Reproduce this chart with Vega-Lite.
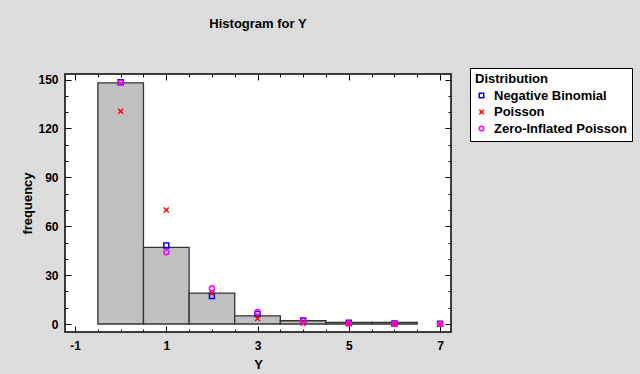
{
  "$schema": "https://vega.github.io/schema/vega-lite/v6.json",
  "width": 386,
  "height": 258,
  "autosize": {"type": "none"},
  "padding": {"left": 65, "top": 74, "right": 189, "bottom": 42},
  "background": "#dcdcdc",
  "title": {"text": "Histogram for Y", "fontSize": 13, "font": "Liberation Sans", "fontWeight": "bold", "anchor": "middle", "offset": 37, "color": "black"},
  "config": {
    "font": "Liberation Sans",
    "view": {"stroke": "black", "strokeWidth": 1.5, "fill": "white"},
    "axis": {"grid": false, "domain": false, "tickColor": "black", "tickWidth": 1, "labelColor": "black", "titleColor": "black", "labelFont": "Liberation Sans", "titleFont": "Liberation Sans", "labelFontSize": 12, "labelFontWeight": "bold", "titleFontSize": 13, "titleFontWeight": "bold"},
    "legend": {"orient": "none", "legendX": 405, "legendY": -6, "fillColor": "white", "strokeColor": "black", "padding": 5, "titleFont": "Liberation Sans", "labelFont": "Liberation Sans", "titleFontSize": 13, "titleFontWeight": "bold", "labelFontSize": 13, "labelFontWeight": "bold", "titleColor": "black", "labelColor": "black", "symbolSize": 20, "symbolStrokeWidth": 1.5, "labelOffset": 6, "rowPadding": 2.5, "titlePadding": 3}
  },
  "datasets": {
    "bars": [
      {"bin_start": -0.5, "bin_end": 0.5, "count": 148},
      {"bin_start": 0.5, "bin_end": 1.5, "count": 47},
      {"bin_start": 1.5, "bin_end": 2.5, "count": 19},
      {"bin_start": 2.5, "bin_end": 3.5, "count": 5},
      {"bin_start": 3.5, "bin_end": 4.5, "count": 2},
      {"bin_start": 4.5, "bin_end": 5.5, "count": 1},
      {"bin_start": 5.5, "bin_end": 6.5, "count": 1}
    ],
    "fits": [
      {"Y": 0, "dist": "Negative Binomial", "frequency": 148.3},
      {"Y": 1, "dist": "Negative Binomial", "frequency": 48.2},
      {"Y": 2, "dist": "Negative Binomial", "frequency": 17.2},
      {"Y": 3, "dist": "Negative Binomial", "frequency": 6.2},
      {"Y": 4, "dist": "Negative Binomial", "frequency": 2.1},
      {"Y": 5, "dist": "Negative Binomial", "frequency": 0.8},
      {"Y": 6, "dist": "Negative Binomial", "frequency": 0.3},
      {"Y": 7, "dist": "Negative Binomial", "frequency": 0.1},
      {"Y": 0, "dist": "Poisson", "frequency": 130.5},
      {"Y": 1, "dist": "Poisson", "frequency": 70.0},
      {"Y": 2, "dist": "Poisson", "frequency": 18.9},
      {"Y": 3, "dist": "Poisson", "frequency": 3.4},
      {"Y": 4, "dist": "Poisson", "frequency": 0.46},
      {"Y": 5, "dist": "Poisson", "frequency": 0.05},
      {"Y": 6, "dist": "Poisson", "frequency": 0.0},
      {"Y": 7, "dist": "Poisson", "frequency": 0.0},
      {"Y": 0, "dist": "Zero-Inflated Poisson", "frequency": 148.0},
      {"Y": 1, "dist": "Zero-Inflated Poisson", "frequency": 44.0},
      {"Y": 2, "dist": "Zero-Inflated Poisson", "frequency": 22.0},
      {"Y": 3, "dist": "Zero-Inflated Poisson", "frequency": 7.3},
      {"Y": 4, "dist": "Zero-Inflated Poisson", "frequency": 1.8},
      {"Y": 5, "dist": "Zero-Inflated Poisson", "frequency": 0.37},
      {"Y": 6, "dist": "Zero-Inflated Poisson", "frequency": 0.06},
      {"Y": 7, "dist": "Zero-Inflated Poisson", "frequency": 0.01}
    ]
  },
  "layer": [
    {
      "data": {"name": "bars"},
      "mark": {"type": "rect", "fill": "#c0c0c0", "stroke": "#333333", "strokeWidth": 1.3},
      "encoding": {
        "x": {"field": "bin_start", "type": "quantitative", "scale": {"domain": [-1.22, 7.24], "nice": false, "zero": false},
          "axis": {"orient": "bottom", "title": "Y", "values": [-1, -0.5, 0, 0.5, 1, 1.5, 2, 2.5, 3, 3.5, 4, 4.5, 5, 5.5, 6, 6.5, 7], "labelExpr": "abs(datum.value % 2) == 1 ? toString(datum.value) : ''", "labelOverlap": false, "tickSize": {"condition": {"test": "abs(datum.value % 2) == 1", "value": -6}, "value": -3}, "labelPadding": 14, "titlePadding": 4}},
        "x2": {"field": "bin_end"},
        "y": {"field": "count", "type": "quantitative", "scale": {"domain": [-4.9, 153.4], "nice": false, "zero": false},
          "axis": {"orient": "left", "title": "frequency", "values": [0, 10, 20, 30, 40, 50, 60, 70, 80, 90, 100, 110, 120, 130, 140, 150], "labelExpr": "datum.value % 30 == 0 ? datum.label : ''", "labelOverlap": false, "tickSize": {"condition": {"test": "datum.value % 30 == 0", "value": -6}, "value": -3}, "labelPadding": 13, "titlePadding": 3}},
        "y2": {"datum": 0}
      }
    },
    {
      "data": {"name": "fits"},
      "mark": {"type": "point", "filled": false, "strokeWidth": 1.5, "size": 25, "opacity": 1},
      "encoding": {
        "x": {"field": "Y", "type": "quantitative",
          "axis": {"orient": "top", "title": null, "labels": false, "values": [-1, -0.5, 0, 0.5, 1, 1.5, 2, 2.5, 3, 3.5, 4, 4.5, 5, 5.5, 6, 6.5, 7], "tickSize": {"condition": {"test": "abs(datum.value % 2) == 1", "value": -6}, "value": -3}}},
        "y": {"field": "frequency", "type": "quantitative",
          "axis": {"orient": "right", "title": null, "labels": false, "values": [0, 10, 20, 30, 40, 50, 60, 70, 80, 90, 100, 110, 120, 130, 140, 150], "tickSize": {"condition": {"test": "datum.value % 30 == 0", "value": -6}, "value": -3}}},
        "color": {"field": "dist", "type": "nominal", "title": "Distribution", "scale": {"domain": ["Negative Binomial", "Poisson", "Zero-Inflated Poisson"], "range": ["#0000ff", "#ff0000", "#ff00ff"]}},
        "shape": {"field": "dist", "type": "nominal", "title": "Distribution", "scale": {"domain": ["Negative Binomial", "Poisson", "Zero-Inflated Poisson"], "range": ["square", "M-1,-1L1,1M-1,1L1,-1", "circle"]}}
      }
    }
  ],
  "resolve": {"axis": {"x": "independent", "y": "independent"}}
}
